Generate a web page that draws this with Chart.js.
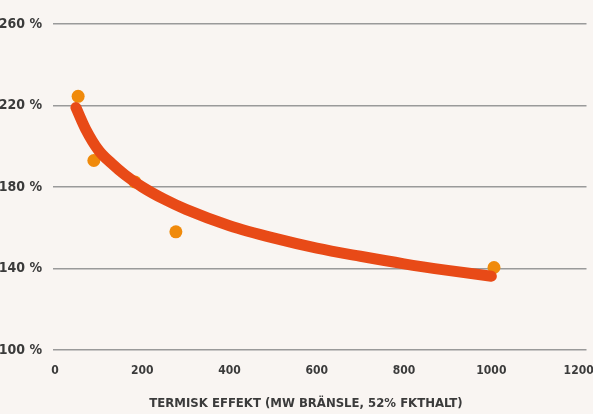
<!DOCTYPE html>
<html>
<head>
<meta charset="utf-8">
<script src="https://cdn.jsdelivr.net/npm/chart.js@4"></script>
<style>
  html, body { margin: 0; padding: 0; background: #f9f5f2; }
  #wrap { width: 593px; height: 414px; position: relative; }
</style>
</head>
<body>
<div id="wrap"><canvas id="myChart"></canvas></div>
<script>
// measured points
const pointX = [53, 89, 183, 277, 1006];
const pointY = [224.5, 193, 182.5, 158, 140.5];
// fitted curve
const curveX = [48, 70, 100, 130, 160, 200, 250, 300, 400, 500, 600, 700, 800, 900, 1000];
const curveY = [219, 208.5, 198, 191.5, 186, 180, 174, 169, 161, 155, 150, 146, 142.3, 139.1, 136.2];
const yTicks = [100, 140, 180, 220, 260];
const xTicks = [0, 200, 400, 600, 800, 1000, 1200];
const xTitle = "TERMISK EFFEKT (MW BRÄNSLE, 52% FKTHALT)";

const fontFamily = "'DejaVu Sans Condensed', 'Liberation Sans Narrow', sans-serif";
const textColor = '#3b3b3b';

const titlePlugin = {
	id: 'xtitle',
	afterDraw(chart) {
		const ctx = chart.ctx;
		ctx.save();
		ctx.font = "bold 13px " + fontFamily;
		ctx.fillStyle = textColor;
		ctx.textAlign = 'center';
		ctx.textBaseline = 'middle';
		ctx.fillText(xTitle, 306, 404);
		ctx.restore();
	}
};

var ctx = document.getElementById("myChart").getContext('2d');
var myChart = new Chart(ctx, {
	type: 'scatter',
	data: {
		datasets: [{
			label: 'kurva',
			type: 'line',
			data: curveX.map((x, i) => ({ x: x, y: curveY[i] })),
			borderColor: '#e84a17',
			borderWidth: 11,
			borderCapStyle: 'round',
			borderJoinStyle: 'round',
			pointRadius: 0,
			cubicInterpolationMode: 'monotone',
			fill: false,
			order: 1
		}, {
			label: 'punkter',
			data: pointX.map((x, i) => ({ x: x, y: pointY[i] })),
			backgroundColor: '#f08a0b',
			borderWidth: 0,
			pointRadius: 6.5,
			order: 2
		}]
	},
	options: {
		responsive: true,
		maintainAspectRatio: false,
		animation: false,
		layout: { padding: { top: 24, right: 0, bottom: 0, left: 0 } },
		plugins: { legend: { display: false }, tooltip: { enabled: false } },
		scales: {
			x: {
				type: 'linear',
				min: -4.6,
				max: 1218,
				afterBuildTicks: axis => { axis.ticks = xTicks.map(v => ({ value: v })); },
				afterFit: axis => { axis.height = 64; axis.paddingLeft = 0; axis.paddingRight = 0; },
				grid: { display: false, drawTicks: false },
				border: { display: false },
				ticks: {
					padding: 14,
					maxRotation: 0,
					color: textColor,
					font: { family: fontFamily, size: 12, weight: 'bold' },
					callback: v => String(v)
				}
			},
			y: {
				min: 100,
				max: 260,
				afterBuildTicks: axis => { axis.ticks = yTicks.map(v => ({ value: v })); },
				afterFit: axis => { axis.width = 53; axis.paddingTop = 0; axis.paddingBottom = 0; },
				grid: { color: '#9a9a9a', lineWidth: 1.5, drawTicks: false },
				border: { display: false },
				ticks: {
					padding: 11,
					color: textColor,
					font: { family: fontFamily, size: 14, weight: 'bold' },
					callback: v => v + ' %'
				}
			}
		}
	},
	plugins: [titlePlugin]
});
</script>
</body>
</html>
